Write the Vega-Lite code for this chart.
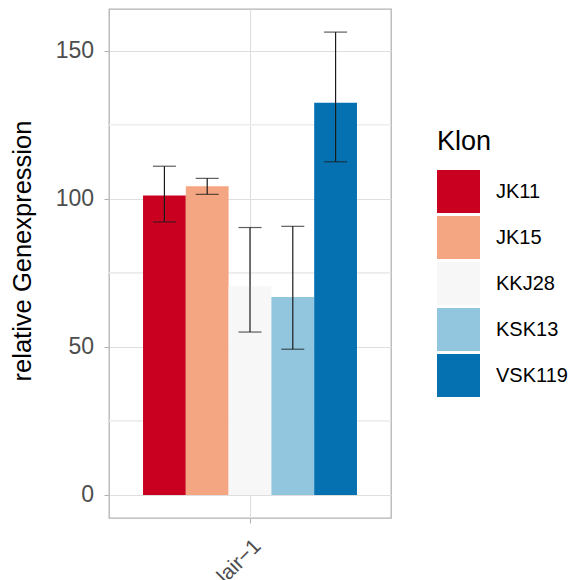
{
  "$schema": "https://vega.github.io/schema/vega-lite/v6.json",
  "autosize": "none",
  "width": 282,
  "height": 509,
  "padding": {"left": 109, "top": 9, "right": 184, "bottom": 62},
  "config": {
    "font": "Liberation Sans",
    "view": {"stroke": "#b3b3b3", "strokeWidth": 1.3},
    "axis": {"tickColor": "#b3b3b3", "tickSize": 5, "tickWidth": 1.1, "domain": false, "gridColor": "#dedede", "gridWidth": 1.1, "labelColor": "#4d4d4d", "labelFontSize": 23, "labelFont": "Liberation Sans", "titleFont": "Liberation Sans"}
  },
  "data": {
    "values": [
      {"gene": "lair−1", "Klon": "JK11", "value": 101.1, "lo": 92.2, "hi": 111.0},
      {"gene": "lair−1", "Klon": "JK15", "value": 104.2, "lo": 101.5, "hi": 106.9},
      {"gene": "lair−1", "Klon": "KKJ28", "value": 70.5, "lo": 55.0, "hi": 90.3},
      {"gene": "lair−1", "Klon": "KSK13", "value": 66.8, "lo": 49.2, "hi": 90.7},
      {"gene": "lair−1", "Klon": "VSK119", "value": 132.4, "lo": 112.5, "hi": 156.3}
    ]
  },
  "encoding": {
    "x": {"field": "gene", "type": "nominal", "title": null,
      "scale": {"paddingInner": 0, "paddingOuter": 0.159},
      "axis": {"bandPosition": 0.5, "labelAngle": -45, "labelAlign": "right", "labelBaseline": "top", "labelPadding": 12, "labelFontSize": 21, "grid": true}},
    "xOffset": {"field": "Klon", "type": "nominal", "scale": {"paddingInner": 0, "paddingOuter": 0}}
  },
  "layer": [
    {
      "mark": {"type": "rule", "strokeWidth": 0.6, "color": "#ececec"},
      "encoding": {
        "y": {"datum": 25, "type": "quantitative", "scale": {"domain": [-7.8, 164.1], "nice": false, "zero": false}},
        "x": null, "xOffset": null
      }
    },
    {
      "mark": {"type": "rule", "strokeWidth": 0.6, "color": "#ececec"},
      "encoding": {"y": {"datum": 75, "type": "quantitative"}, "x": null, "xOffset": null}
    },
    {
      "mark": {"type": "rule", "strokeWidth": 0.6, "color": "#ececec"},
      "encoding": {"y": {"datum": 125, "type": "quantitative"}, "x": null, "xOffset": null}
    },
    {
      "mark": {"type": "bar"},
      "encoding": {
        "y": {"field": "value", "type": "quantitative",
          "scale": {"domain": [-7.8, 164.1], "nice": false, "zero": false},
          "axis": {"values": [0, 50, 100, 150], "grid": true, "title": "relative Genexpression", "titleFontSize": 25.5, "titleFontWeight": "normal", "titleColor": "#000000", "titleAngle": 270, "titleX": -79, "titleY": 241.5, "titleAlign": "center", "titleBaseline": "alphabetic", "labelPadding": 10.5}},
        "color": {"field": "Klon", "type": "nominal",
          "scale": {"domain": ["JK11", "JK15", "KKJ28", "KSK13", "VSK119"], "range": ["#CA0020", "#F4A582", "#F7F7F7", "#92C5DE", "#0571B0"]},
          "legend": {"orient": "none", "legendX": 328, "legendY": 120, "title": "Klon", "titleFontSize": 27, "titleFontWeight": "normal", "titleColor": "#000000", "titlePadding": 14, "symbolType": "square", "symbolSize": 1849, "symbolStrokeWidth": 0, "symbolOpacity": 1, "rowPadding": 3, "labelFontSize": 20, "labelColor": "#000000", "labelOffset": 16, "labelFont": "Liberation Sans", "titleFont": "Liberation Sans"}}
      }
    },
    {
      "mark": {"type": "rule", "color": "#1a1a1a", "strokeWidth": 1.2},
      "encoding": {
        "y": {"field": "lo", "type": "quantitative"},
        "y2": {"field": "hi"}
      }
    },
    {
      "mark": {"type": "tick", "color": "#1a1a1a", "thickness": 1.2, "size": 23, "orient": "horizontal"},
      "encoding": {"y": {"field": "lo", "type": "quantitative"}}
    },
    {
      "mark": {"type": "tick", "color": "#1a1a1a", "thickness": 1.2, "size": 23, "orient": "horizontal"},
      "encoding": {"y": {"field": "hi", "type": "quantitative"}}
    }
  ]
}
